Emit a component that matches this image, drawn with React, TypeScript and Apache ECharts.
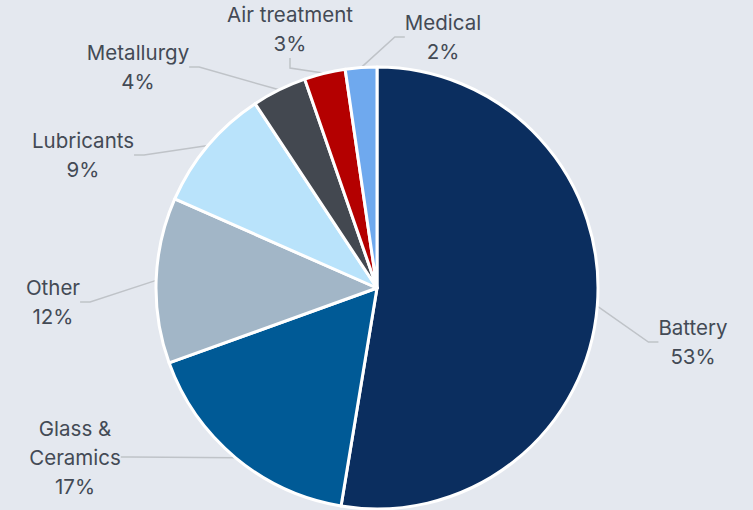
import React, { useEffect, useRef } from "react";
import * as echarts from "echarts";

const categories = ["Battery", "Glass & Ceramics", "Other", "Lubricants", "Metallurgy", "Air treatment", "Medical"];
// shares (labels show rounded values)
const shares = [52.6, 16.9, 12.1, 9.1, 4.0, 3.0, 2.3];
const colors = ["#0b2e5f", "#005a96", "#a2b6c7", "#b9e3fb", "#434850", "#b40000", "#6fa9ee"];
// label centres (layout only)
const labelPos: [number, number][] = [
  [693, 342],
  [75, 457],
  [53, 302],
  [83, 155],
  [138, 67],
  [290, 29],
  [443, 37],
];

export default function App() {
  const ref = useRef<HTMLDivElement>(null);
  useEffect(() => {
    document.body.style.margin = "0";
    const chart = echarts.init(ref.current!, null, { renderer: "svg" });
    chart.setOption({
      animation: false,
      backgroundColor: "#e4e8ef",
      series: [
        {
          type: "pie",
          center: [377, 288],
          radius: 221,
          startAngle: 90,
          clockwise: true,
          avoidLabelOverlap: false,
          itemStyle: { borderColor: "#ffffff", borderWidth: 3 },
          label: {
            show: true,
            position: "outside",
            fontFamily: "Inter",
            fontSize: 20.5,
            lineHeight: 29,
            color: "#434a55",
            align: "center",
            formatter: (p: any) => `${String(p.name).replace(" & ", " &\n")}\n${Math.round(p.value)}%`,
          },
          labelLine: {
            show: true,
            length: 20,
            length2: 10,
            lineStyle: { color: "#bfc3c8", width: 1.5 },
          },
          labelLayout: (params: any) => {
            const [x, y] = labelPos[params.dataIndex];
            return { x, y, align: "center", verticalAlign: "middle" };
          },
          data: categories.map((name, i) => ({
            name,
            value: shares[i],
            itemStyle: { color: colors[i] },
          })),
        },
      ],
    });
    return () => chart.dispose();
  }, []);
  return <div ref={ref} style={{ width: 753, height: 510 }} />;
}
